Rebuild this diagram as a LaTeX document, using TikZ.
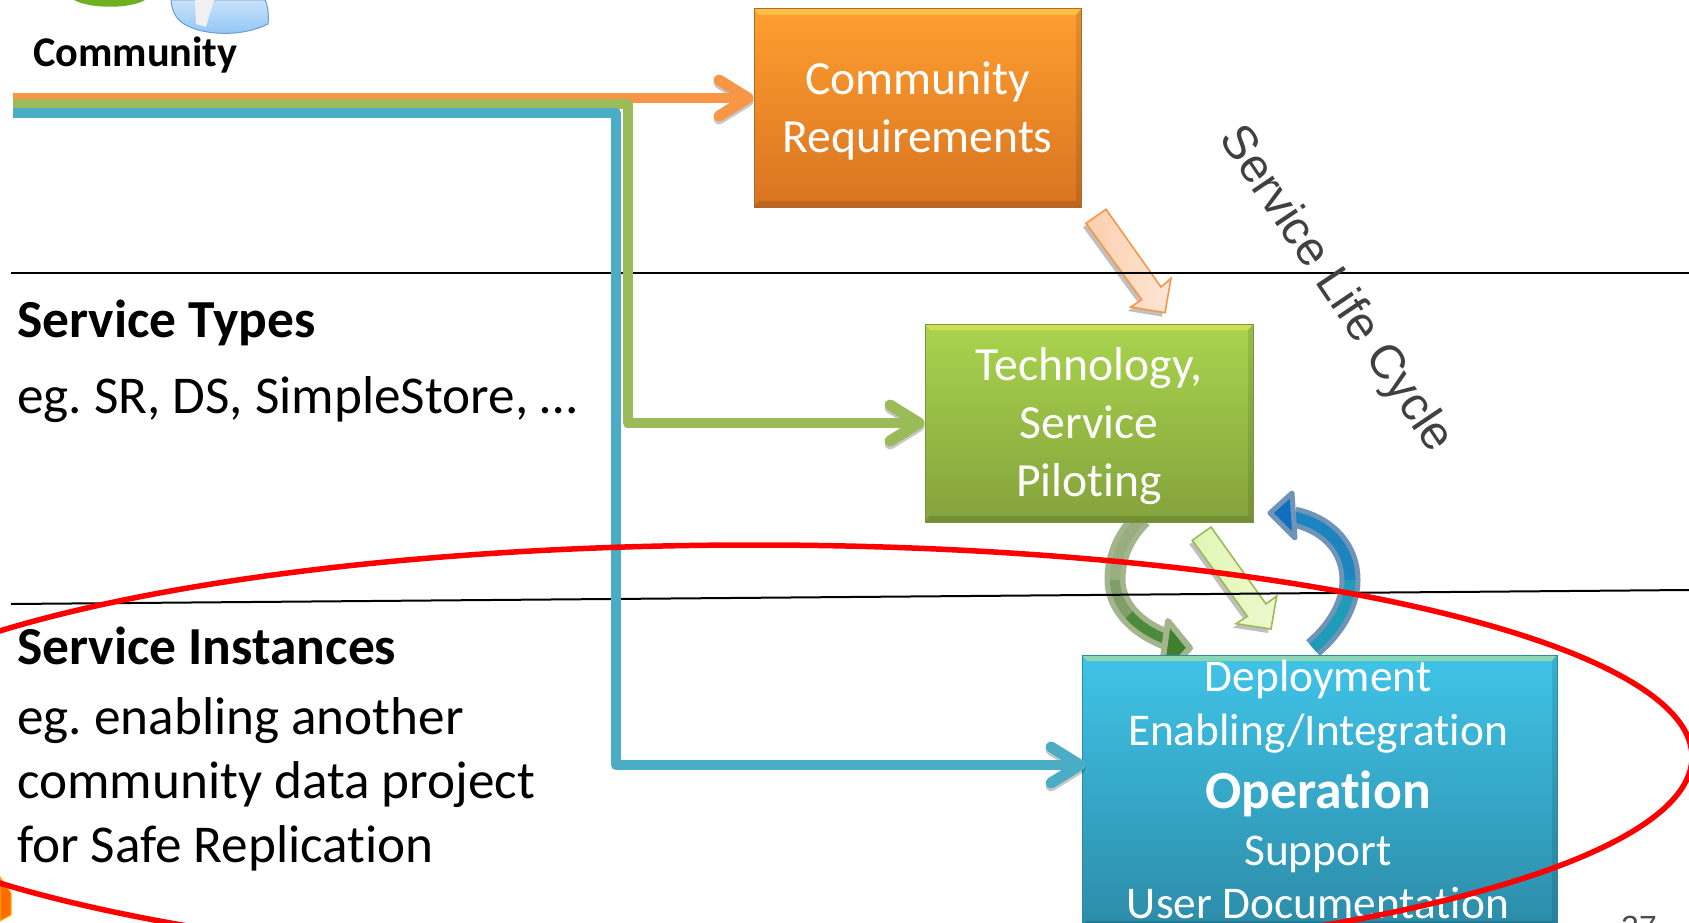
\documentclass[tikz,border=0pt]{standalone}
\usepackage{fontspec}
\setmainfont{Carlito}[Ligatures={NoCommon}]
\newfontfamily\lifefont{Liberation Sans}
\usetikzlibrary{arrows.meta,shadows,calc}
\definecolor{cOrange}{HTML}{F79646}
\definecolor{cGreen}{HTML}{9BBB59}
\definecolor{cBlue}{HTML}{4BACC6}
\definecolor{oTop}{HTML}{FF9E30}\definecolor{oBot}{HTML}{D87420}\definecolor{oEdge}{HTML}{B0682E}
\definecolor{gTop}{HTML}{A9D44E}\definecolor{gBot}{HTML}{84A23C}\definecolor{gEdge}{HTML}{7A9340}
\definecolor{bTop}{HTML}{40C4E8}\definecolor{bBot}{HTML}{2C8CA8}\definecolor{bEdge}{HTML}{2B8BA6}
\definecolor{oL}{HTML}{FBCFAC}\definecolor{oR}{HTML}{FDE6D6}
\definecolor{gL}{HTML}{E0F6B4}\definecolor{gR}{HTML}{EDF9CE}
\definecolor{ringG}{HTML}{A3B58C}\definecolor{ringGa}{HTML}{98AD82}\definecolor{ringGm}{HTML}{7F9E68}\definecolor{ringGb}{HTML}{4E8A3C}\definecolor{headG}{HTML}{3F7F2F}
\definecolor{ringB}{HTML}{7094B8}\definecolor{ringBa}{HTML}{1E9CB8}\definecolor{ringBb}{HTML}{1C84BE}\definecolor{headB}{HTML}{1070BF}
\definecolor{iconG}{HTML}{6FB020}\definecolor{iconBa}{HTML}{C8E2FA}\definecolor{iconBb}{HTML}{8CC4F6}\definecolor{iconBe}{HTML}{6E9CCB}
\tikzset{
  x=1pt,y=-1pt,
  bevelbox/.style n args={3}{rectangle,inner sep=0pt,
    top color=#1,bottom color=#2,draw=#3,line width=1pt,
    path picture={
      \fill[yellow!60!white,opacity=.4] (path picture bounding box.north west) -- (path picture bounding box.north east) -- ([shift={(-5pt,-6pt)}]path picture bounding box.north east) -- ([shift={(5pt,-6pt)}]path picture bounding box.north west) -- cycle;
      \fill[black,opacity=.13] (path picture bounding box.south west) -- (path picture bounding box.south east) -- ([shift={(-5pt,6pt)}]path picture bounding box.south east) -- ([shift={(5pt,6pt)}]path picture bounding box.south west) -- cycle;
      \fill[black,opacity=.10] (path picture bounding box.south east) -- (path picture bounding box.north east) -- ([shift={(-5pt,-6pt)}]path picture bounding box.north east) -- ([shift={(-5pt,6pt)}]path picture bounding box.south east) -- cycle;
    }},
  boxtext/.style={inner sep=0pt,text=white,align=center,font=\fontsize{47.6}{58}\selectfont},
  conn/.style={line width=10pt,line join=round,draw=#1,
    preaction={draw=black,opacity=.22,transform canvas={yshift=-3pt}},
    -{Straight Barb[length=29pt,width=36pt,line width=11pt,round]}},
  blockarrow/.style n args={3}{draw=#1,line width=1.6pt,line join=miter,
    left color=#2,right color=#3,
    drop shadow={shadow xshift=-3pt,shadow yshift=-4pt,opacity=.35,fill=black!70}},
  hairline/.style={draw=black,line width=2pt},
  headtext/.style={anchor=base west,inner sep=0pt,font=\fontsize{53.5}{53.5}\selectfont\bfseries,text=black},
  bodytext/.style={anchor=base west,inner sep=0pt,font=\fontsize{53.2}{53.2}\selectfont\frenchspacing,text=black},
  optext/.style={anchor=base,inner sep=0pt,text=white,font=\fontsize{45.4}{45.4}\selectfont},
  ring/.style={line width=#1,line cap=butt},
}
\begin{document}
\begin{tikzpicture}
\useasboundingbox (0,0) rectangle (1689,923);
\clip (0,0) rectangle (1689,923);
\fill[white] (0,0) rectangle (1689,923);

% community icon (cropped by the top edge)
\fill[iconG] (74,0) .. controls (90,9) and (130,9) .. (145,0) -- cycle;
\path[draw=iconBe,line width=1pt,top color=iconBa,bottom color=iconBb]
  (171,0) .. controls (172,14) and (178,22) .. (190,27) .. controls (205,34) and (240,38) .. (268,24) .. controls (269,15) and (268,6) .. (265,0) -- cycle;
\fill[gray!12] (195,0) -- (214,0) -- (206,27) -- (196,24) -- cycle;
\node[anchor=base west,inner sep=0pt,font=\fontsize{42.3}{42.3}\selectfont\bfseries] (community) at (33,67) {Community};

% cycle arrow, green
\draw[ring=21pt,draw=ringG] (1142,518) .. controls (1125,535) and (1115,555) .. (1115,580) .. controls (1115,605) and (1135,628) .. (1168,640);
\draw[ring=10pt,draw=ringGa] (1142,518) .. controls (1125,535) and (1115,555) .. (1115,580);
\draw[ring=10pt,draw=ringGm] (1115,580) .. controls (1115,592.5) and (1120,604.5) .. (1129.1,614.9);
\draw[ring=10pt,draw=ringGb] (1129.1,614.9) .. controls (1138.25,625.25) and (1151.5,634) .. (1168,640);
\path[draw=ringG,line width=6pt,line join=round,fill=headG]
  (1168,621) -- (1190,648) -- (1160,680) -- cycle;

% cycle arrow, blue
\draw[ring=21pt,draw=ringB] (1313,648) .. controls (1340,625) and (1350,600) .. (1350,580) .. controls (1350,550) and (1330,525) .. (1294,517);
\draw[ring=11pt,draw=ringBa] (1313,648) .. controls (1340,625) and (1350,600) .. (1350,580);
\draw[ring=11pt,draw=ringBb] (1350,580) .. controls (1350,550) and (1330,525) .. (1294,517);
\path[draw=ringB,line width=5pt,line join=round,fill=headB]
  (1292,493) -- (1270,513) -- (1295,538) -- cycle;

% boxes
\node[bevelbox={oTop}{oBot}{oEdge},minimum width=327pt,minimum height=198pt] (req) at (917.5,108) {};
\node[bevelbox={gTop}{gBot}{gEdge},minimum width=328pt,minimum height=198pt] (tech) at (1089,423) {};
\node[bevelbox={bTop}{bBot}{bEdge},minimum width=475pt,minimum height=272pt] (ops) at (1319.5,791) {};
\node[boxtext] (reqtext) at ([yshift=-3.2pt]req.center) {Community\\Requirements};
\node[boxtext] (techtext) at ([yshift=-3.4pt]tech.center) {Technology,\\Service\\Piloting};

% block arrows
\path[blockarrow={cOrange}{oL}{oR}] (1086,223.3) -- (1106,209.3) -- (1161,287) -- (1171,278.3) -- (1165,312.7) -- (1130.7,307) -- (1141.7,299.7) -- cycle;
\path[blockarrow={cGreen}{gL}{gR}] (1192.3,540.3) -- (1211,527) -- (1266,604) -- (1276.7,596) -- (1271,629) -- (1236,623.7) -- (1247.3,616.3) -- cycle;

% rules
\draw[hairline] (11,272.5) -- (1689,272.5);
\draw[hairline] (11,604) -- (1689,590);

% connectors
\coordinate (src1) at (13,98);
\coordinate (src2) at (13,104);
\coordinate (src3) at (13,113);
\coordinate (lvl2) at (627.5,423);
\coordinate (lvl3) at (616,765);
\draw[conn=cOrange] (src1) -- (req.west |- src1);
\draw[conn=cGreen] (src2) -- (src2 -| lvl2) -- (lvl2) -- (tech.west |- lvl2);
\draw[conn=cBlue,shorten >=-4pt] (src3) -- (src3 -| lvl3) -- (lvl3) -- (ops.west |- lvl3);

% labels
\node[headtext] (types) at (17,337) {Service Types};
\node[bodytext] (typeseg) at (17,413) {eg. SR, DS, SimpleStore, …};
\node[headtext] (insts) at (17,664) {Service Instances};
\node[bodytext] (insta) at (17,734.5) {eg. enabling another};
\node[bodytext] (instb) at (17,798.5) {community data project};
\node[bodytext] (instc) at (17,862.5) {for Safe Replication};

\node[optext] (o1) at (1318,691) {Deployment};
\node[optext] (o2) at (1318,745) {Enabling/Integration};
\node[optext,font=\fontsize{53.7}{53.7}\selectfont\bfseries] (o3) at (1318,808) {Operation};
\node[optext] (o4) at (1318,865) {Support};
\node[optext] (o5) at (1318,918) {User Documentation};

\node[rotate=-56,inner sep=0pt,text=black!75,font=\fontsize{47.6}{47.6}\selectfont\lifefont] (life) at (1335,290) {Service Life Cycle};
\node[anchor=base,inner sep=0pt,text=black!70,font=\fontsize{32}{32}\selectfont\lifefont] (page) at (1639,938) {27};

% corner fragment
\path[fill=orange!85!red,draw=orange!60!yellow,line width=1pt] (0,877) -- (11,893) -- (11,915) -- (0,921) -- cycle;

% highlight ellipse
\draw[red,line width=5.5pt] (754,757) ellipse [x radius=938,y radius=212];
\end{tikzpicture}
\end{document}
